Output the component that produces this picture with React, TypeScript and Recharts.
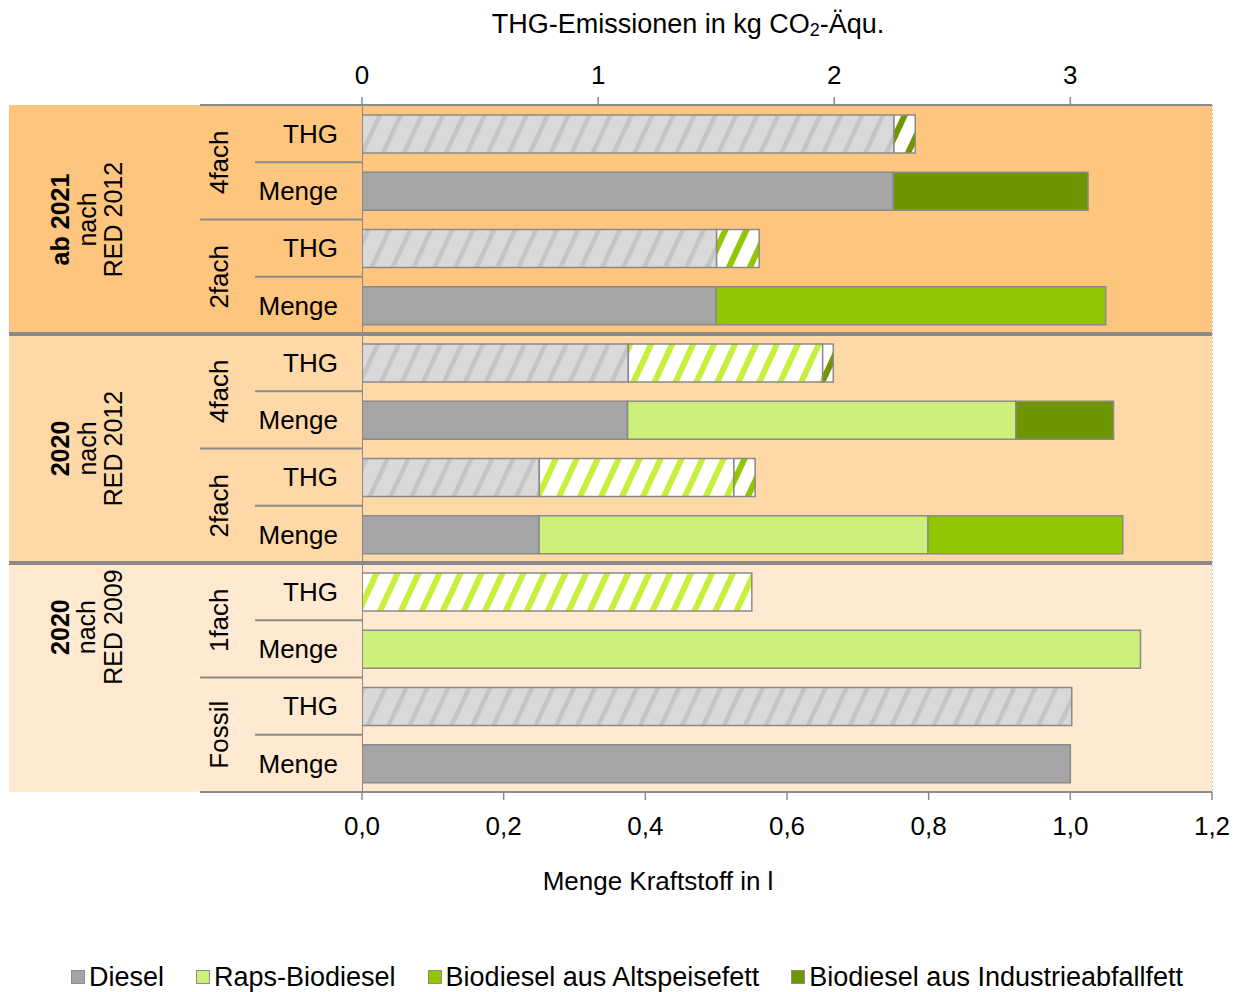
import { BarChart, Bar, XAxis, YAxis, CartesianGrid, ReferenceArea, Legend } from "recharts";

// six scenarios, each drawn as a THG row and a Menge row
const scenarios = ["ab2021-4fach", "ab2021-2fach", "2020-RED2012-4fach", "2020-RED2012-2fach", "2020-RED2009-1fach", "2020-RED2009-fossil"];
const factorLabels = ["4fach", "2fach", "4fach", "2fach", "1fach", "Fossil"];
const groupTitles = ["ab 2021", "2020", "2020"];
const groupSubs = [["nach", "RED 2012"], ["nach", "RED 2012"], ["nach", "RED 2009"]];

const seriesNames = ["Diesel", "Raps-Biodiesel", "Biodiesel aus Altspeisefett", "Biodiesel aus Industrieabfallfett"];

// Menge Kraftstoff in l
const dieselMenge = [0.75, 0.5, 0.375, 0.25, 0, 1.0];
const rapsMenge = [0, 0, 0.548, 0.549, 1.099, 0];
const altMenge = [0, 0.55, 0, 0.275, 0, 0];
const indMenge = [0.275, 0, 0.138, 0, 0, 0];

// THG-Emissionen in kg CO2-Äqu.
const dieselThg = [2.253, 1.502, 1.128, 0.751, 0, 3.006];
const rapsThg = [0, 0, 0.823, 0.824, 1.651, 0];
const altThg = [0, 0.18, 0, 0.09, 0, 0];
const indThg = [0.09, 0, 0.045, 0, 0, 0];

const mengeTicks = [0, 0.2, 0.4, 0.6, 0.8, 1.0, 1.2];
const thgTicks = [0, 1, 2, 3];

const nz = (v: number) => (v > 0 ? v : null);

const data = scenarios.flatMap((s, i) => [
  {
    id: `${s}-THG`,
    scen: i,
    kind: "THG",
    dieselThg: nz(dieselThg[i]),
    rapsThg: nz(rapsThg[i]),
    altThg: nz(altThg[i]),
    indThg: nz(indThg[i]),
  },
  {
    id: `${s}-Menge`,
    scen: i,
    kind: "Menge",
    diesel: nz(dieselMenge[i]),
    raps: nz(rapsMenge[i]),
    alt: nz(altMenge[i]),
    ind: nz(indMenge[i]),
  },
]);

const W = 1223;
const H = 984;
const PLOT_LEFT = 354;
const PLOT_TOP = 97;
const PLOT_RIGHT = 1204;
const PLOT_BOTTOM = 784;
const LEGEND_H = 30;
const BAND = (PLOT_BOTTOM - PLOT_TOP) / data.length;

const FONT = "'Liberation Sans', Arial, sans-serif";
const LINE = "#8a8a8a";

const groupFills = ["#fec57e", "#fed8a6", "#ffead1"];
const groupLabelOffset = [1.5, 1.5, 0.62];

const colors = {
  diesel: "#a5a5a5",
  raps: "#ccf07a",
  alt: "#92c600",
  ind: "#6e9600",
};

const RowTick = (props: any) => {
  const { y, payload } = props;
  const idx = data.findIndex((d) => d.id === payload.value);
  if (idx < 0) return null;
  const row = data[idx];
  const g = Math.floor(row.scen / 2);
  const top = y - BAND / 2;
  const isThg = row.kind === "THG";
  const groupStart = isThg && row.scen % 2 === 0;
  const out: any[] = [];

  // one background block per group, drawn by its first row
  if (groupStart) {
    out.push(<rect key="bg" x={1} y={top} width={PLOT_LEFT - 1} height={BAND * 4} fill={groupFills[g]} />);
  }

  // separator on top of this row
  if (groupStart && row.scen > 0) {
    out.push(<line key="sep" x1={1} x2={PLOT_RIGHT} y1={top} y2={top} stroke={LINE} strokeWidth={4} />);
  } else if (isThg) {
    out.push(<line key="sep" x1={192} x2={PLOT_LEFT} y1={top} y2={top} stroke={LINE} strokeWidth={2} />);
  } else {
    out.push(<line key="sep" x1={247} x2={PLOT_LEFT} y1={top} y2={top} stroke={LINE} strokeWidth={2} />);
  }
  if (idx === data.length - 1) {
    out.push(<line key="end" x1={192} x2={PLOT_LEFT} y1={top + BAND} y2={top + BAND} stroke={LINE} strokeWidth={2} />);
  }

  // group label
  if (groupStart) {
    const cy = y + groupLabelOffset[g] * BAND;
    const lines = [groupTitles[g], ...groupSubs[g]];
    lines.forEach((t, k) => {
      const bx = 61 + k * 26.5;
      out.push(
        <text
          key={`g${k}`}
          x={bx}
          y={cy}
          transform={`rotate(-90 ${bx} ${cy})`}
          textAnchor="middle"
          fontSize={25}
          fontWeight={k === 0 ? "bold" : "normal"}
          fill="#000"
        >
          {t}
        </text>
      );
    });
  }

  // factor label (4fach, 2fach, ...)
  if (isThg) {
    const cy = y + BAND / 2;
    out.push(
      <text key="f" x={220} y={cy} transform={`rotate(-90 220 ${cy})`} textAnchor="middle" fontSize={26} fill="#000">
        {factorLabels[row.scen]}
      </text>
    );
  }

  out.push(
    <text key="k" x={330} y={y} dy="0.36em" textAnchor="end" fontSize={26} fill="#000">
      {row.kind}
    </text>
  );

  return <g>{out}</g>;
};

const LegendContent = () => (
  <div
    style={{
      display: "flex",
      justifyContent: "center",
      alignItems: "center",
      height: LEGEND_H,
      fontFamily: FONT,
      fontSize: 27,
      gap: 32,
      paddingLeft: 34,
      color: "#000",
    }}
  >
    {seriesNames.map((name, i) => (
      <span key={name} style={{ display: "flex", alignItems: "center" }}>
        <span
          style={{
            width: 12,
            height: 12,
            background: Object.values(colors)[i],
            border: "1px solid #8c8c8c",
            marginRight: 4,
          }}
        />
        {name}
      </span>
    ))}
  </div>
);

const fmt = (v: number) => v.toFixed(1).replace(".", ",");

export default function App() {
  return (
    <div style={{ fontFamily: FONT, width: W, height: H }}>
      <BarChart
        width={W}
        height={H}
        data={data}
        layout="vertical"
        margin={{ top: 0, right: W - PLOT_RIGHT, bottom: 0, left: 0 }}
        barSize={38}
      >
        <defs>
          <pattern id="hDiesel" patternUnits="userSpaceOnUse" width={19} height={19} patternTransform="rotate(25)">
            <rect width={19} height={19} fill="#d9d9d9" />
            <rect width={4.5} height={19} fill="#c4c4c4" />
          </pattern>
          <pattern id="hRaps" patternUnits="userSpaceOnUse" width={19} height={19} patternTransform="rotate(25)">
            <rect width={19} height={19} fill="#ffffff" />
            <rect width={6} height={19} fill="#c8f03a" />
          </pattern>
          <pattern id="hAlt" patternUnits="userSpaceOnUse" width={19} height={19} patternTransform="rotate(25)">
            <rect width={19} height={19} fill="#ffffff" />
            <rect width={6} height={19} fill="#92c600" />
          </pattern>
          <pattern id="hInd" patternUnits="userSpaceOnUse" width={19} height={19} patternTransform="rotate(25)">
            <rect width={19} height={19} fill="#ffffff" />
            <rect width={6} height={19} fill="#6e9600" />
          </pattern>
        </defs>

        {[0, 1, 2].map((g) => (
          <ReferenceArea
            key={g}
            xAxisId="menge"
            y1={data[g * 4].id}
            y2={data[g * 4 + 3].id}
            fill={groupFills[g]}
            fillOpacity={1}
            stroke="none"
            ifOverflow="visible"
          />
        ))}

        <CartesianGrid
          xAxisId="menge"
          horizontal={false}
          vertical
          stroke="#8c8c8c"
          strokeDasharray="2 2"
        />

        <XAxis
          xAxisId="thg"
          orientation="top"
          type="number"
          domain={[0, 3.6]}
          ticks={thgTicks}
          height={PLOT_TOP}
          tick={{ fontSize: 26, fill: "#000" }}
          tickSize={8}
          tickMargin={13}
          axisLine={{ stroke: LINE, strokeWidth: 2 }}
          tickLine={{ stroke: LINE, strokeWidth: 1.5 }}
          allowDataOverflow
        />
        <XAxis
          xAxisId="menge"
          orientation="bottom"
          type="number"
          domain={[0, 1.2]}
          ticks={mengeTicks}
          tickFormatter={fmt}
          height={H - PLOT_BOTTOM - LEGEND_H}
          tick={{ fontSize: 26, fill: "#000" }}
          tickSize={8}
          tickMargin={17}
          axisLine={{ stroke: LINE, strokeWidth: 2 }}
          tickLine={{ stroke: LINE, strokeWidth: 1.5 }}
          allowDataOverflow
        />
        <YAxis
          type="category"
          dataKey="id"
          width={PLOT_LEFT}
          interval={0}
          tick={<RowTick />}
          tickLine={false}
          axisLine={{ stroke: LINE, strokeWidth: 2 }}
        />

        <Bar xAxisId="thg" dataKey="dieselThg" stackId="s" fill="url(#hDiesel)" stroke="#8a8a8a" strokeWidth={1.5} isAnimationActive={false} />
        <Bar xAxisId="thg" dataKey="rapsThg" stackId="s" fill="url(#hRaps)" stroke="#8a8a8a" strokeWidth={1.5} isAnimationActive={false} />
        <Bar xAxisId="thg" dataKey="altThg" stackId="s" fill="url(#hAlt)" stroke="#8a8a8a" strokeWidth={1.5} isAnimationActive={false} />
        <Bar xAxisId="thg" dataKey="indThg" stackId="s" fill="url(#hInd)" stroke="#8a8a8a" strokeWidth={1.5} isAnimationActive={false} />

        <Bar xAxisId="menge" dataKey="diesel" name={seriesNames[0]} stackId="s" fill={colors.diesel} stroke="#8a8a8a" strokeWidth={1.5} isAnimationActive={false} />
        <Bar xAxisId="menge" dataKey="raps" name={seriesNames[1]} stackId="s" fill={colors.raps} stroke="#8a8a8a" strokeWidth={1.5} isAnimationActive={false} />
        <Bar xAxisId="menge" dataKey="alt" name={seriesNames[2]} stackId="s" fill={colors.alt} stroke="#8a8a8a" strokeWidth={1.5} isAnimationActive={false} />
        <Bar xAxisId="menge" dataKey="ind" name={seriesNames[3]} stackId="s" fill={colors.ind} stroke="#8a8a8a" strokeWidth={1.5} isAnimationActive={false} />

        <Legend verticalAlign="bottom" content={<LegendContent />} wrapperStyle={{ height: LEGEND_H }} />

        <text x={680} y={25} textAnchor="middle" fontSize={27} fill="#000">
          THG-Emissionen in kg CO
          <tspan fontSize={18} dy={3}>2</tspan>
          <tspan dy={-3}>-Äqu.</tspan>
        </text>
        <text x={650} y={882} textAnchor="middle" fontSize={26} fill="#000">
          Menge Kraftstoff in l
        </text>
      </BarChart>
    </div>
  );
}
